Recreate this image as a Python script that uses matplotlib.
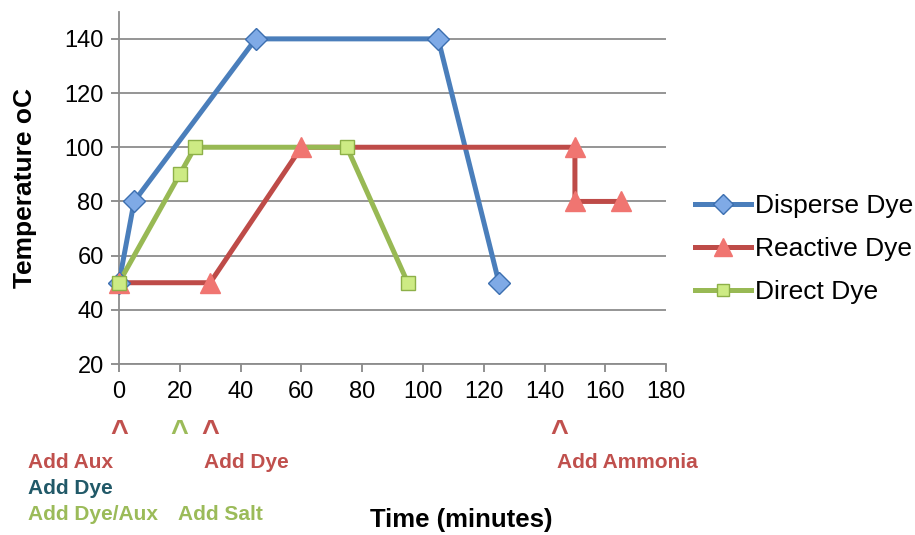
import matplotlib.pyplot as plt
from matplotlib.lines import Line2D

plt.rcParams['font.family'] = ['Liberation Sans', 'DejaVu Sans']

# time (minutes) / temperature (oC) for each dye process
disperse_t = [0, 5, 45, 105, 125]
disperse_temp = [50, 80, 140, 140, 50]

reactive_t = [0, 30, 60, 150, 150, 165]
reactive_temp = [50, 50, 100, 100, 80, 80]

direct_t = [0, 20, 25, 75, 95]
direct_temp = [50, 90, 100, 100, 50]

# caret marks under the axis
event_t = [0, 20, 30, 145]
event_colors = ['#C0504D', '#9BBB59', '#C0504D', '#C0504D']

x_ticks = list(range(0, 181, 20))
y_ticks = list(range(20, 141, 20))

fig = plt.figure(figsize=(9.15, 5.35), dpi=100)
ax = fig.add_axes([0.130, 0.3196, 0.598, 0.6584])

series = [
    ("Disperse Dye", disperse_t, disperse_temp, '#4A7EBB', 'D', '#7FAAE6', '#3C6FB0', 11.5),
    ("Reactive Dye", reactive_t, reactive_temp, '#BE4B48', '^', '#F07571', '#F07571', 15),
    ("Direct Dye", direct_t, direct_temp, '#98B954', 's', '#CDEB84', '#8DB048', 10),
]

handles = []
for i, (name, t, temp, col, mk, fc, ec, ms) in enumerate(series):
    ax.plot(t, temp, color=col, lw=3.6, zorder=3 + i, solid_joinstyle='miter')
    ax.plot(t, temp, ls='none', marker=mk, ms=ms, mfc=fc, mec=ec, mew=1,
            zorder=10 + i, clip_on=False)
    handles.append(Line2D([], [], color=col, lw=3.6, marker=mk, ms=ms * 0.85,
                          mfc=fc, mec=ec, mew=1))

ax.set_xlim(0, 180)
ax.set_ylim(20, 150)
ax.set_xticks(x_ticks)
ax.set_yticks(y_ticks)
ax.tick_params(labelsize=17, colors='#888888', labelcolor='black',
               length=6, width=1.3, direction='out')
ax.tick_params(axis='x', pad=6)
ax.tick_params(axis='y', pad=5)
ax.grid(axis='y', color='#8C8C8C', lw=1.3)
ax.set_axisbelow(True)
for s in ['top', 'right']:
    ax.spines[s].set_visible(False)
for s in ['left', 'bottom']:
    ax.spines[s].set_color('#8C8C8C')
    ax.spines[s].set_linewidth(1.3)

for t, c in zip(event_t, event_colors):
    ax.text(t, -0.2, "^", transform=ax.get_xaxis_transform(), color=c,
            fontsize=22, fontweight='bold', ha='center', va='center')

fig.text(0.0306, 0.1346, "Add Aux", color='#C0504D', fontsize=15,
         fontweight='bold', va='center')
fig.text(0.0306, 0.086, "Add Dye", color='#215968', fontsize=15,
         fontweight='bold', va='center')
fig.text(0.0306, 0.0374, "Add Dye/Aux", color='#9BBB59', fontsize=15,
         fontweight='bold', va='center')
fig.text(0.1945, 0.0374, "Add Salt", color='#9BBB59', fontsize=15,
         fontweight='bold', va='center')
fig.text(0.223, 0.1346, "Add Dye", color='#C0504D', fontsize=15,
         fontweight='bold', va='center')
fig.text(0.6087, 0.1346, "Add Ammonia", color='#C0504D', fontsize=15,
         fontweight='bold', va='center')

fig.text(0.504, 0.028, "Time (minutes)", fontsize=18.5, fontweight='bold',
         ha='center', va='center')
fig.text(0.027, 0.649, "Temperature oC", fontsize=19, fontweight='bold',
         ha='center', va='center', rotation=90)

fig.legend(handles, [s[0] for s in series], loc='center left',
           bbox_to_anchor=(0.760, 0.535), frameon=False, fontsize=19,
           handlelength=2.1, handletextpad=0.15, labelspacing=0.72,
           borderpad=0, borderaxespad=0)

fig.savefig("out.png", dpi=100)
